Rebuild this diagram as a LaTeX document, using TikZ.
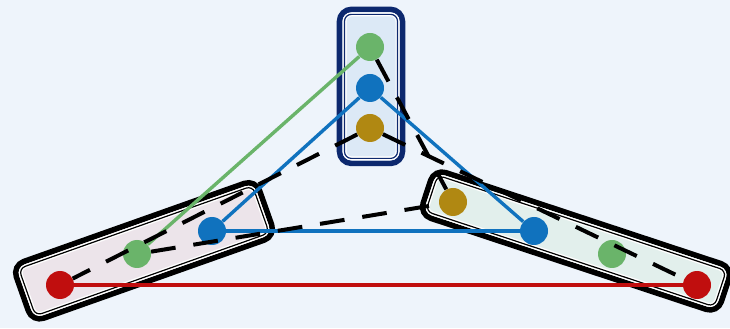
\documentclass[tikz,border=0pt]{standalone}
\usepackage{tikz}
\usetikzlibrary{shapes,arrows.meta,positioning,calc}
\usepackage{xcolor}
\definecolor{bgblue}{RGB}{238,244,251}
\definecolor{navy}{RGB}{12,40,110}
\definecolor{dotgreen}{RGB}{106,180,106}
\definecolor{dotblue}{RGB}{16,114,190}
\definecolor{dotgold}{RGB}{176,136,18}
\definecolor{dotred}{RGB}{192,14,14}
\definecolor{topfill}{RGB}{220,233,246}
\definecolor{leftfill}{RGB}{236,228,234}
\definecolor{rightfill}{RGB}{226,239,236}

\begin{document}
\begin{tikzpicture}[
    dot/.style={circle, minimum size=0.7cm, inner sep=0pt},
    outerbox/.style={rectangle, rounded corners=0.3cm, line width=0.14cm, inner sep=0pt},
    innerbox/.style={rectangle, rounded corners=0.17cm, draw=#1, line width=0.03cm, inner sep=0pt,
                     preaction={draw=white, line width=0.1cm}},
    link/.style={line width=0.085cm},
    dashlink/.style={line width=0.1cm, black, dash pattern=on 0.62cm off 0.45cm}
]
    % Background
    \fill[bgblue] (0,0) rectangle (18.25,8.2);
    \useasboundingbox (0,0) rectangle (18.25,8.2);

    % Group boxes
    \node[outerbox, draw=navy, fill=topfill, minimum width=1.575cm, minimum height=3.85cm] (topbox) at (9.275,6.04) {};
    \node[innerbox=navy, minimum width=1.325cm, minimum height=3.6cm] (topboxin) at (topbox.center) {};
    \node[outerbox, draw=black, fill=leftfill, minimum width=6.45cm, minimum height=1.5cm, rotate=19.5] (leftbox) at (3.6,1.93) {};
    \node[innerbox=black, minimum width=6.2cm, minimum height=1.25cm, rotate=19.5] (leftboxin) at (leftbox.center) {};
    \node[outerbox, draw=black, fill=rightfill, minimum width=7.85cm, minimum height=1.2cm, rotate=-18.3] (rightbox) at (14.4,2.175) {};
    \node[innerbox=black, minimum width=7.6cm, minimum height=0.95cm, rotate=-18.3] (rightboxin) at (rightbox.center) {};

    % Top group
    \node[dot, fill=dotgreen] (topG) at (9.25,7.025) {};
    \node[dot, fill=dotblue] (topB) at (9.25,6.0) {};
    \node[dot, fill=dotgold] (topY) at (9.25,5.0) {};

    % Left group
    \node[dot, fill=dotred] (leftR) at (1.5,1.075) {};
    \node[dot, fill=dotgreen] (leftG) at (3.425,1.85) {};
    \node[dot, fill=dotblue] (leftB) at (5.3,2.425) {};

    % Right group
    \node[dot, fill=dotgold] (rightY) at (11.325,3.15) {};
    \node[dot, fill=dotblue] (rightB) at (13.35,2.425) {};
    \node[dot, fill=dotgreen] (rightG) at (15.3,1.85) {};
    \node[dot, fill=dotred] (rightR) at (17.425,1.075) {};

    % Coloured links
    \draw[link, dotgreen] (topG) -- (leftG);
    \draw[link, dotblue] (topB) -- (leftB);
    \draw[link, dotblue] (topB) -- (rightB);
    \draw[link, dotblue] (leftB) -- (rightB);
    \draw[link, dotred] (leftR) -- (rightR);

    % Dashed links
    \draw[dashlink] (topY) -- (leftR);
    \draw[dashlink] (topY) -- (rightR);
    \draw[dashlink] (topG) -- (rightY);
    \draw[dashlink] (leftG) -- (rightY);
\end{tikzpicture}
\end{document}
